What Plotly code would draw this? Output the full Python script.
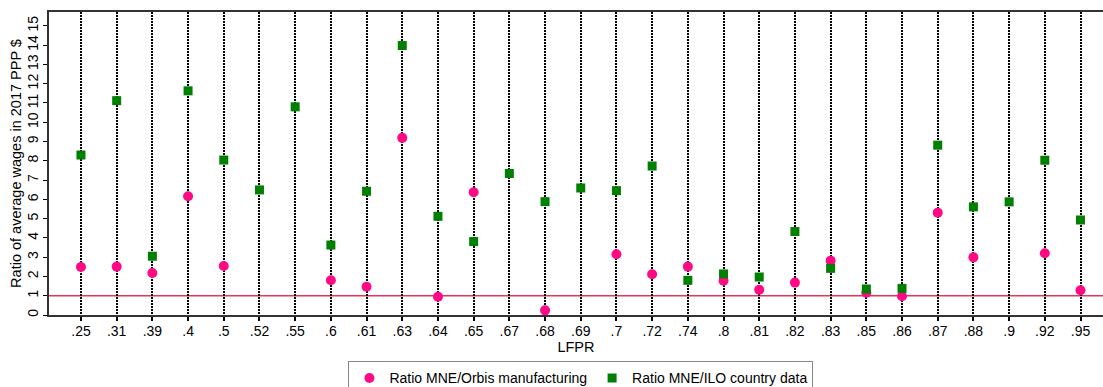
import plotly.graph_objects as go

categories = [".25", ".31", ".39", ".4", ".5", ".52", ".55", ".6", ".61", ".63",
              ".64", ".65", ".67", ".68", ".69", ".7", ".72", ".74", ".8", ".81",
              ".82", ".83", ".85", ".86", ".87", ".88", ".9", ".92", ".95"]

ratio_orbis = [2.49, 2.51, 2.18, 6.16, 2.54, None, None, 1.80, 1.47, 9.19,
               0.95, 6.37, None, 0.24, None, 3.15, 2.11, 2.51, 1.78, 1.31,
               1.68, 2.82, 1.15, 0.97, 5.31, 2.99, None, 3.20, 1.28]

ratio_ilo = [8.30, 11.12, 3.05, 11.63, 8.04, 6.49, 10.80, 3.63, 6.42, 13.98,
             5.12, 3.81, 7.34, 5.88, 6.59, 6.45, 7.73, 1.80, 2.13, 1.97,
             4.33, 2.42, 1.35, 1.38, 8.81, 5.61, 5.87, 8.03, 4.93]

y_ticks = list(range(0, 16))
ref_line = 1

FONT = "Liberation Sans, Arial, Helvetica, sans-serif"

fig = go.Figure()
fig.add_trace(go.Scatter(
    x=categories, y=ratio_orbis, mode="markers",
    name="Ratio MNE/Orbis manufacturing",
    marker=dict(symbol="circle", size=10, color="#ff0a84", line=dict(width=0)),
))
fig.add_trace(go.Scatter(
    x=categories, y=ratio_ilo, mode="markers",
    name="Ratio MNE/ILO country data",
    marker=dict(symbol="square", size=9, color="#008000", line=dict(width=0)),
))

fig.add_shape(type="line", xref="paper", x0=0, x1=1, yref="y", y0=ref_line, y1=ref_line,
              line=dict(color="#e8335a", width=1.5), layer="below")

fig.update_layout(
    width=1103, height=387,
    margin=dict(l=49, r=0, t=12, b=72, autoexpand=False),
    paper_bgcolor="white", plot_bgcolor="white",
    font=dict(family=FONT, size=14, color="black"),
    showlegend=True,
    legend=dict(
        orientation="h", x=0.5047, xanchor="center", y=-0.153, yanchor="top",
        bordercolor="#888888", borderwidth=1, bgcolor="white",
        font=dict(size=14, family=FONT), itemwidth=30, tracegroupgap=0,
    ),
)

fig.update_xaxes(
    type="category", categoryorder="array", categoryarray=categories,
    range=[-0.896, 28.63],
    showgrid=True, gridcolor="black", gridwidth=2, griddash="2px,1px",
    showline=True, linecolor="#333333", linewidth=1.5, mirror=True,
    ticks="outside", ticklen=4, tickcolor="black", tickwidth=1.5,
    tickfont=dict(size=14), ticklabelstandoff=-2,
    title=dict(text="LFPR", font=dict(size=14.5), standoff=2),
    zeroline=False, automargin=False,
)
fig.update_yaxes(
    range=[0, 15.72], tickmode="array", tickvals=y_ticks,
    ticktext=[str(v) for v in y_ticks],
    tickangle=-90, showgrid=False, zeroline=False,
    showline=True, linecolor="#333333", linewidth=1.5, mirror=False,
    ticks="outside", ticklen=4, tickcolor="black", tickwidth=1,
    tickfont=dict(size=14), automargin=False,
    title=dict(text="Ratio of average wages in 2017 PPP $", font=dict(size=14.5), standoff=0),
)

fig.write_html("out.html")
